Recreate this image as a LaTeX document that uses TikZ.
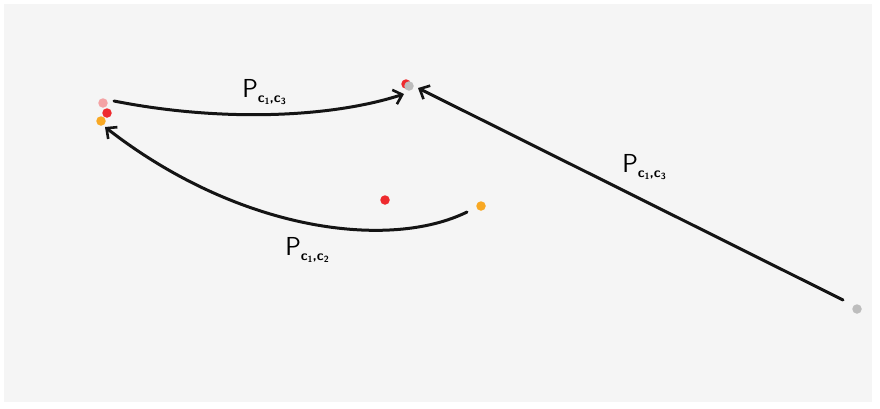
\documentclass[tikz,border=0pt]{standalone}
\usetikzlibrary{arrows.meta}
\definecolor{panel}{HTML}{F5F5F5}
\definecolor{dotpink}{HTML}{F4A3A5}
\definecolor{dotred}{HTML}{EE2A2E}
\definecolor{dotorange}{HTML}{F8A823}
\definecolor{dotgray}{HTML}{BDBDBD}
\tikzset{
  pt/.style={circle, inner sep=0pt, minimum size=9.5pt},
  path/.style={line width=3pt, black!92, line cap=round,
    -{Straight Barb[length=8pt,width=15pt,line width=2.6pt]}},
  lbl/.style={font=\sffamily, inner sep=1pt}
}
% a path label: a large P with a two-index subscript
\newcommand{\idx}[1]{\raisebox{-0.12em}{\fontsize{9}{9}\selectfont #1}}
\newcommand{\plabel}[2]{{\fontsize{26}{28}\selectfont P}\raisebox{-0.45em}{\fontsize{14}{14}\selectfont\bfseries c\idx{#1},c\idx{#2}}}
\begin{document}
\begin{tikzpicture}[x=1pt,y=-1pt]
  \useasboundingbox (0,0) rectangle (880,408);
  \fill[white] (0,0) rectangle (880,408);
  \fill[panel] (4,4) rectangle (872,402);

  % points of the three clusters
  \node[pt, fill=dotpink]   (a1) at (103,103) {};
  \node[pt, fill=dotred]    (a2) at (107,113) {};
  \node[pt, fill=dotorange] (a3) at (101,121) {};
  \node[pt, fill=dotred]    (b1) at (406,84) {};
  \node[pt, fill=dotgray]   (b2) at (409,86) {};
  \node[pt, fill=dotred]    (c1) at (385,200) {};
  \node[pt, fill=dotorange] (c2) at (481,206) {};
  \node[pt, fill=dotgray]   (d1) at (857,309) {};

  % paths between the points
  \coordinate (s1) at (114,101);
  \draw[path] (s1) .. controls (220,122) and (330,118) .. (404,94);
  \coordinate (s2) at (467,212);
  \draw[path] (s2) .. controls (390,250) and (240,232) .. (105,127);
  \coordinate (s3) at (843,300);
  \draw[path] (s3) -- (418,88);

  % labels
  \node[lbl] (l1) at (264,92) {\plabel{1}{3}};
  \node[lbl] (l2) at (307,250) {\plabel{1}{2}};
  \node[lbl] (l3) at (644,167) {\plabel{1}{3}};
\end{tikzpicture}
\end{document}
